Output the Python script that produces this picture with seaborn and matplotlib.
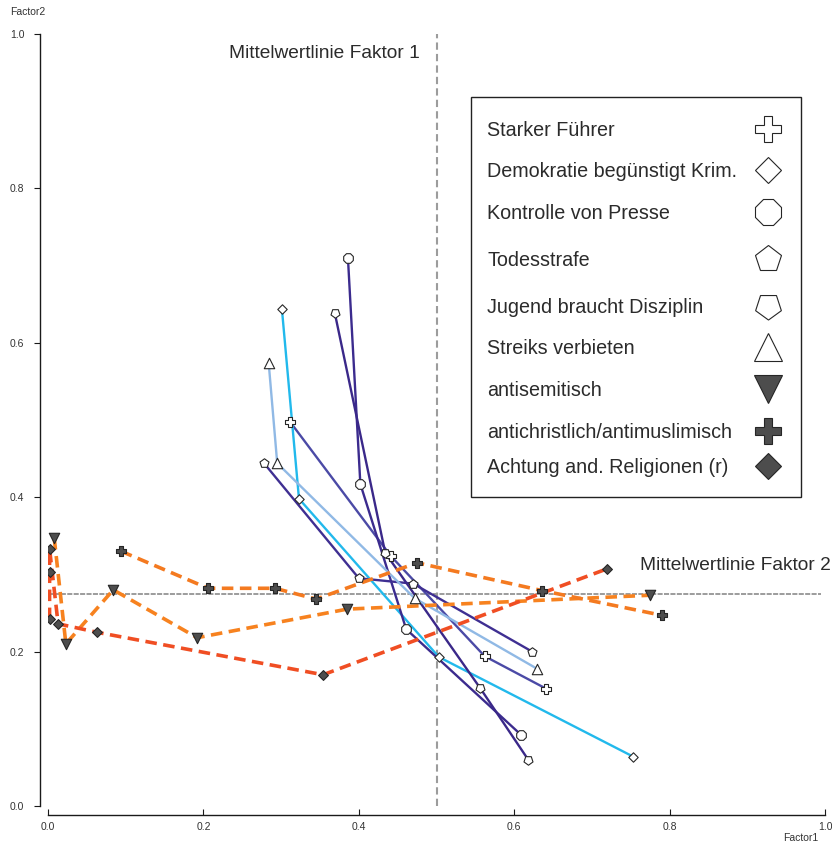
import numpy as np
import pandas as pd
import seaborn as sns
import matplotlib.pyplot as plt
from matplotlib.patches import Rectangle

# legend order of the items
ITEMS = ['Starker Führer', 'Demokratie begünstigt Krim.', 'Kontrolle von Presse',
         'Todesstrafe', 'Jugend braucht Disziplin', 'Streiks verbieten',
         'antisemitisch', 'antichristlich/antimuslimisch',
         'Achtung and. Religionen (r)']

# factor scores (Factor1 = x, Factor2 = y)
fuehrer_f1 = [0.312, 0.441, 0.562, 0.641]
fuehrer_f2 = [0.497, 0.324, 0.194, 0.152]
demokratie_f1 = [0.301, 0.323, 0.503, 0.753]
demokratie_f2 = [0.644, 0.398, 0.193, 0.064]
presse_f1 = [0.386, 0.402, 0.461, 0.609]
presse_f2 = [0.710, 0.417, 0.229, 0.092]
todesstrafe_f1 = [0.278, 0.400, 0.470, 0.623]
todesstrafe_f2 = [0.444, 0.295, 0.288, 0.200]
jugend_f1 = [0.369, 0.434, 0.556, 0.618]
jugend_f2 = [0.639, 0.328, 0.153, 0.060]
streiks_f1 = [0.284, 0.295, 0.472, 0.629]
streiks_f2 = [0.574, 0.444, 0.269, 0.178]
antisem_f1 = [0.008, 0.023, 0.084, 0.192, 0.385, 0.775]
antisem_f2 = [0.347, 0.210, 0.280, 0.218, 0.255, 0.273]
antichr_f1 = [0.094, 0.206, 0.292, 0.345, 0.475, 0.636, 0.790]
antichr_f2 = [0.330, 0.282, 0.282, 0.268, 0.315, 0.279, 0.247]
achtung_f1 = [0.002, 0.002, 0.002, 0.013, 0.063, 0.354, 0.719]
achtung_f2 = [0.242, 0.303, 0.333, 0.236, 0.225, 0.170, 0.307]

MEAN_F1 = 0.5
MEAN_F2 = 0.275
TICKS = [0.0, 0.2, 0.4, 0.6, 0.8, 1.0]

series = {
    ITEMS[0]: (fuehrer_f1, fuehrer_f2),
    ITEMS[1]: (demokratie_f1, demokratie_f2),
    ITEMS[2]: (presse_f1, presse_f2),
    ITEMS[3]: (todesstrafe_f1, todesstrafe_f2),
    ITEMS[4]: (jugend_f1, jugend_f2),
    ITEMS[5]: (streiks_f1, streiks_f2),
    ITEMS[6]: (antisem_f1, antisem_f2),
    ITEMS[7]: (antichr_f1, antichr_f2),
    ITEMS[8]: (achtung_f1, achtung_f2),
}
rows = []
for item, (f1, f2) in series.items():
    for step, (a, b) in enumerate(zip(f1, f2)):
        rows.append((item, step, a, b))
df = pd.DataFrame(rows, columns=['item', 'step', 'Factor1', 'Factor2'])

# styles
LINE_COLORS = {
    ITEMS[0]: '#4b4aa6', ITEMS[1]: '#22b9ec', ITEMS[2]: '#3b2b8e',
    ITEMS[3]: '#3f2f92', ITEMS[4]: '#3a2889', ITEMS[5]: '#90b9e5',
    ITEMS[6]: '#f7821f', ITEMS[7]: '#f47a20', ITEMS[8]: '#f04e23',
}
MARKERS = {
    ITEMS[0]: 'P', ITEMS[1]: 'D', ITEMS[2]: '8', ITEMS[3]: 'p',
    ITEMS[4]: (5, 0, 180), ITEMS[5]: '^', ITEMS[6]: 'v',
    ITEMS[7]: 'P', ITEMS[8]: 'D',
}
# marker size in the plot / in the legend (points)
MSIZE = {ITEMS[0]: 7.5, ITEMS[1]: 4.8, ITEMS[2]: 7.5, ITEMS[3]: 6.8,
         ITEMS[4]: 6.8, ITEMS[5]: 7.5, ITEMS[6]: 7.5, ITEMS[7]: 7.5, ITEMS[8]: 5.0}
LSIZE = {ITEMS[0]: 19, ITEMS[1]: 13.5, ITEMS[2]: 19.5, ITEMS[3]: 19.5,
         ITEMS[4]: 19.5, ITEMS[5]: 20, ITEMS[6]: 20, ITEMS[7]: 19, ITEMS[8]: 13.5}
SOLID = ITEMS[:6]
DASHED = ITEMS[6:]
OPEN_FACE = 'white'
DARK_FACE = '#4d4d4d'
EDGE = '#262626'

sns.set_theme(style='white')
plt.rcParams['font.family'] = ['Liberation Sans', 'DejaVu Sans']

fig, ax = plt.subplots(figsize=(8.32, 8.43), dpi=100)
fig.subplots_adjust(left=0.0577, right=0.9916, bottom=0.0439, top=0.9597)

# mean lines
ax.axhline(MEAN_F2, xmin=0, xmax=0.995, color='#9c9c9c', lw=1.4, dashes=(2.6, 0.7), zorder=1)
ax.axvline(MEAN_F1, color='#9c9c9c', lw=1.5, dashes=(3.5, 2.0), zorder=1)

sns.lineplot(data=df[df['item'].isin(SOLID)], x='Factor1', y='Factor2', hue='item',
             style='item', palette={k: LINE_COLORS[k] for k in SOLID},
             dashes={k: '' for k in SOLID}, sort=False, estimator=None,
             lw=1.7, legend=False, ax=ax, zorder=2)
sns.lineplot(data=df[df['item'].isin(DASHED)], x='Factor1', y='Factor2', hue='item',
             style='item', palette={k: LINE_COLORS[k] for k in DASHED},
             dashes={k: (3.2, 1.8) for k in DASHED}, sort=False, estimator=None,
             lw=2.6, legend=False, ax=ax, zorder=3)

for item in ITEMS:
    sub = df[df['item'] == item]
    face = OPEN_FACE if item in SOLID else DARK_FACE
    sns.scatterplot(data=sub, x='Factor1', y='Factor2', marker=MARKERS[item],
                    s=MSIZE[item] ** 2, color=face, edgecolor=EDGE, linewidth=0.8,
                    legend=False, ax=ax, zorder=5)

ax.text(0.479, 0.975, 'Mittelwertlinie Faktor 1', ha='right', va='center',
        fontsize=13.8, color='#2b2b2b')
ax.text(0.762, 0.312, 'Mittelwertlinie Faktor 2', ha='left', va='center',
        fontsize=13.8, color='#2b2b2b')

# legend box: labels left, big markers in a right column
ax.add_patch(Rectangle((0.5444, 0.4003), 0.4247, 0.5181, transform=ax.transAxes,
                       facecolor='white', edgecolor='#222222', lw=1.0, zorder=6))
legend_rows = [129, 170, 212, 259, 306, 347, 389, 431, 466]
for item, py in zip(ITEMS, legend_rows):
    yy = (806 - py) / 772
    ax.text(0.565, yy - 0.0025, item, transform=ax.transAxes, ha='left', va='center',
            fontsize=14.2, color='#2b2b2b', zorder=7)
    face = OPEN_FACE if item in SOLID else DARK_FACE
    ax.plot([0.9266], [yy], transform=ax.transAxes, ls='none', marker=MARKERS[item],
            markersize=LSIZE[item], markerfacecolor=face, markeredgecolor=EDGE,
            markeredgewidth=0.8, zorder=7, clip_on=False)

ax.set_xlim(0, 1)
ax.set_ylim(0, 1)
ax.set_xticks(TICKS)
ax.set_yticks(TICKS)
ax.set_xlabel('')
ax.set_ylabel('')
sns.despine(ax=ax)
ax.spines['left'].set_position(('outward', 6))
ax.spines['bottom'].set_position(('outward', 6.5))
for sp in ['left', 'bottom']:
    ax.spines[sp].set_color('#1a1a1a')
    ax.spines[sp].set_linewidth(1.0)
ax.tick_params(axis='x', direction='in', length=4, width=0.8, labelsize=7.5,
               pad=5, colors='#1a1a1a', labelcolor='#333333', bottom=True)
ax.tick_params(axis='y', direction='out', length=4, width=0.8, labelsize=7.5,
               pad=7, colors='#1a1a1a', labelcolor='#333333', left=True)

fig.text(0.012, 0.986, 'Factor2', fontsize=7.5, color='#333333', ha='left', va='center')
fig.text(0.962, 0.006, 'Factor1', fontsize=7.5, color='#333333', ha='center', va='center')

fig.savefig('out.png', dpi=100)
